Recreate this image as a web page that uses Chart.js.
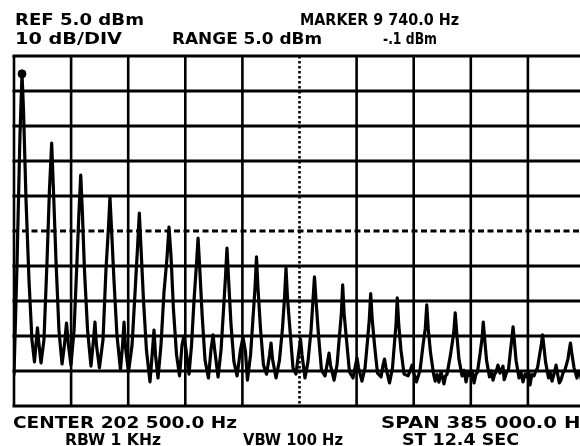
<!DOCTYPE html>
<html>
<head>
<meta charset="utf-8">
<script src="https://cdn.jsdelivr.net/npm/chart.js@4/dist/chart.umd.min.js"></script>
<style>
  html, body { margin: 0; padding: 0; background: #fff; overflow: hidden; width: 580px; height: 446px; }
  #wrap { position: absolute; left: 0; top: 0; width: 600px; height: 446px; }
</style>
</head>
<body>
<div id="wrap"><canvas id="c"></canvas></div>
<script>
// ---- data (frequency in kHz, level in dBm) ----
const traceFreqKHz = [
  10.0,12.0,14.0,15.4,16.4,18.1,20.1,
  22.1,23.8,24.8,25.8,26.9,28.2,30.2,
  32.3,33.9,35.4,36.6,38.3,
  40.3,42.4,44.0,45.4,46.7,48.4,50.5,
  52.5,53.8,55.0,56.1,57.5,
  59.6,61.9,63.6,64.6,65.6,67.6,70.0,
  72.0,73.7,74.7,75.7,77.4,
  79.4,81.8,83.2,84.2,85.2,87.2,89.6,
  91.6,93.3,94.5,95.6,97.3,
  99.3,101.7,103.4,104.4,105.4,107.1,109.1,
  111.1,113.2,114.5,115.9,117.5,
  119.6,121.6,123.3,124.6,126.0,128.0,129.7,
  131.4,132.9,134.1,135.2,136.8,
  138.8,141.1,142.8,144.2,145.5,147.6,149.6,
  151.3,152.6,153.6,154.6,156.3,
  158.3,160.4,162.7,164.4,166.1,167.4,169.5,
  171.1,172.5,173.5,174.5,176.2,
  178.2,180.3,182.3,183.3,184.3,186.7,189.0,
  191.0,192.4,193.4,194.4,196.1,
  198.1,200.1,202.2,203.2,204.2,206.2,208.2,
  210.3,211.6,212.6,213.6,215.3,
  217.3,219.7,221.4,222.4,223.4,225.8,227.8,
  229.5,230.7,231.6,232.6,234.2,
  236.2,238.6,240.3,241.3,242.3,244.6,246.7,
  248.4,249.6,250.5,251.5,253.1,
  255.1,257.5,258.8,259.8,260.8,263.2,265.2,
  266.7,267.6,268.4,269.4,270.9,
  273.0,275.7,277.3,278.4,279.4,281.4,283.8,
  285.8,287.3,288.3,289.3,290.8,
  292.9,294.0,295.2,296.5,297.9,299.0,299.9,301.0,302.0,
  304.3,306.5,307.5,308.5,310.0,
  312.1,313.4,314.8,316.0,317.5,318.8,320.2,321.4,322.5,
  324.4,325.6,326.4,327.3,328.6,
  330.6,331.8,333.0,334.0,335.0,336.3,337.7,339.7,340.5,341.4,342.4,343.4,
  344.8,345.6,346.5,347.3,348.5,
  350.5,351.8,353.2,354.6,355.9,357.0,357.9,359.2,360.6,361.8,363.0,
  364.7,365.5,366.4,367.2,368.4,
  370.4,371.6,372.8,374.4,375.5,376.5,377.7,378.8,380.2,381.5,
  383.5,384.4,385.2,386.0,387.6,
  389.6,390.6,391.6,392.8,394.3
];
const traceLevelDbm = [
  -86.0,-55.0,-18.0,-0.1,-10.4,-36.1,-59.0,
  -76.1,-82.4,-77.6,-72.7,-77.6,-82.7,-76.1,
  -53.3,-33.3,-19.9,-33.3,-53.3,
  -73.3,-83.0,-77.6,-71.3,-77.6,-83.3,-73.3,
  -53.3,-39.6,-29.0,-39.6,-56.1,
  -73.3,-83.6,-76.1,-71.0,-77.6,-84.1,-76.1,
  -56.1,-43.9,-35.3,-43.9,-59.0,
  -74.7,-84.7,-77.6,-71.0,-78.4,-85.3,-77.6,
  -62.7,-49.6,-39.9,-49.6,-64.7,
  -79.0,-88.1,-79.0,-73.3,-80.4,-87.0,-77.6,
  -62.7,-52.4,-43.9,-52.4,-67.3,
  -80.4,-86.4,-77.6,-75.0,-79.0,-85.9,-77.6,
  -64.7,-55.3,-47.0,-55.3,-68.7,
  -81.9,-87.0,-79.0,-74.7,-79.6,-86.7,-79.0,
  -67.3,-58.1,-49.9,-58.1,-71.6,
  -82.4,-86.4,-79.0,-75.3,-79.6,-87.6,-80.4,
  -70.1,-61.3,-52.4,-61.3,-72.9,
  -83.3,-85.9,-80.4,-77.0,-81.6,-87.0,-81.9,
  -72.9,-64.1,-55.6,-64.1,-73.3,
  -84.1,-85.9,-79.0,-75.9,-80.4,-87.0,-82.4,
  -73.3,-64.7,-58.1,-64.7,-74.7,
  -84.7,-86.4,-82.4,-79.9,-83.3,-87.6,-83.3,
  -74.7,-68.7,-60.4,-68.7,-76.1,
  -85.3,-87.0,-83.3,-81.3,-84.1,-87.9,-84.1,
  -76.1,-70.1,-62.9,-70.1,-77.6,
  -85.6,-86.7,-83.3,-81.6,-84.1,-88.4,-84.1,
  -76.1,-71.6,-64.1,-71.6,-79.0,
  -85.9,-86.4,-84.7,-83.3,-85.3,-88.1,-84.7,
  -77.6,-72.9,-66.1,-72.9,-79.6,
  -85.9,-87.9,-86.0,-88.2,-85.3,-87.0,-88.7,-86.4,-85.9,
  -80.4,-74.1,-68.4,-74.1,-81.6,
  -86.4,-84.8,-88.1,-85.5,-86.4,-84.9,-88.4,-86.0,-85.3,
  -79.6,-75.6,-71.0,-75.6,-81.9,
  -86.7,-85.0,-87.6,-86.0,-85.3,-83.3,-85.6,-83.6,-87.5,-86.4,-85.0,-84.7,
  -79.0,-76.1,-72.4,-76.1,-81.9,
  -87.0,-85.4,-88.1,-85.9,-86.7,-85.2,-89.0,-86.0,-86.4,-85.0,-84.1,
  -79.6,-77.6,-74.7,-77.6,-82.4,
  -87.0,-85.6,-87.9,-85.3,-83.3,-85.9,-88.4,-87.6,-85.5,-84.7,
  -81.6,-79.0,-77.0,-79.6,-84.1,
  -87.0,-85.0,-85.3,-88.0,-86.4
];
const markerFreqKHz = [15.4];
const markerLevelDbm = [-0.1];

// grid: 10 divisions, 38.5 kHz and 10 dB each
const gridFreqKHz = [10, 48.5, 87, 125.5, 164, 202.5, 241, 279.5, 318, 356.5, 395];
const gridLevelDbm = [5, -5, -15, -25, -35, -45, -55, -65, -75, -85, -95];
const centerFreqKHz = 202.5;
const centerLevelDbm = -45;

// annotation texts
const headerLabels = ['REF 5.0 dBm', 'MARKER 9 740.0 Hz', '10 dB/DIV', 'RANGE 5.0 dBm', '-.1 dBm'];
const footerLabels = ['CENTER 202 500.0 Hz', 'SPAN 385 000.0 Hz', 'RBW 1 KHz', 'VBW 100 Hz', 'ST 12.4 SEC'];

// ---- layout (positions / sizes) ----
const headerPos = [
  {x: 15, y: 25, w: 129}, {x: 300, y: 25, w: 159},
  {x: 15, y: 44, w: 107}, {x: 172, y: 44, w: 150}, {x: 383, y: 44, w: 54}
];
const footerPos = [
  {x: 13, y: 428, w: 224}, {x: 381, y: 428, w: 211},
  {x: 65, y: 445, w: 96}, {x: 243, y: 445, w: 100}, {x: 402, y: 445, w: 117}
];

const gridPlugin = {
  id: 'saGrid',
  beforeDatasetsDraw(chart) {
    const {ctx, chartArea: a, scales: {x, y}} = chart;
    ctx.save();
    ctx.strokeStyle = '#000';
    ctx.lineCap = 'butt';
    gridLevelDbm.forEach(v => {
      const py = y.getPixelForValue(v);
      ctx.lineWidth = 3;
      ctx.setLineDash(v === centerLevelDbm ? [6, 3.5] : []);
      ctx.beginPath(); ctx.moveTo(a.left - 1.5, py); ctx.lineTo(a.right + 1.5, py); ctx.stroke();
    });
    gridFreqKHz.forEach(v => {
      const px = x.getPixelForValue(v);
      ctx.lineWidth = 2.6;
      ctx.setLineDash(v === centerFreqKHz ? [2.5, 2.5] : []);
      ctx.beginPath(); ctx.moveTo(px, a.top); ctx.lineTo(px, a.bottom); ctx.stroke();
    });
    ctx.restore();
  },
  afterDraw(chart) {
    const ctx = chart.ctx;
    ctx.save();
    ctx.fillStyle = '#000';
    ctx.font = 'bold 15px "DejaVu Sans"';
    ctx.textBaseline = 'alphabetic';
    const put = (t, p) => {
      const m = ctx.measureText(t).width;
      ctx.save();
      ctx.translate(p.x, p.y);
      ctx.scale(p.w / m, 1);
      ctx.fillText(t, 0, 0);
      ctx.restore();
    };
    headerLabels.forEach((t, i) => put(t, headerPos[i]));
    footerLabels.forEach((t, i) => put(t, footerPos[i]));
    ctx.restore();
  }
};

new Chart(document.getElementById('c'), {
  type: 'line',
  data: {
    datasets: [
      {
        data: traceFreqKHz.map((f, i) => ({x: f, y: traceLevelDbm[i]})),
        borderColor: '#000',
        borderWidth: 3.2,
        borderJoinStyle: 'round',
        borderCapStyle: 'round',
        pointRadius: 0,
        tension: 0,
        fill: false
      },
      {
        data: markerFreqKHz.map((f, i) => ({x: f, y: markerLevelDbm[i]})),
        showLine: false,
        pointRadius: 4,
        pointBackgroundColor: '#000',
        pointBorderColor: '#000',
        pointBorderWidth: 1
      }
    ]
  },
  options: {
    responsive: true,
    maintainAspectRatio: false,
    animation: false,
    layout: {padding: {left: 14, top: 56, right: 15, bottom: 40}},
    plugins: {legend: {display: false}, tooltip: {enabled: false}},
    scales: {
      x: {type: 'linear', display: false, min: 10, max: 395},
      y: {type: 'linear', display: false, min: -95, max: 5}
    }
  },
  plugins: [gridPlugin]
});
</script>
</body>
</html>
